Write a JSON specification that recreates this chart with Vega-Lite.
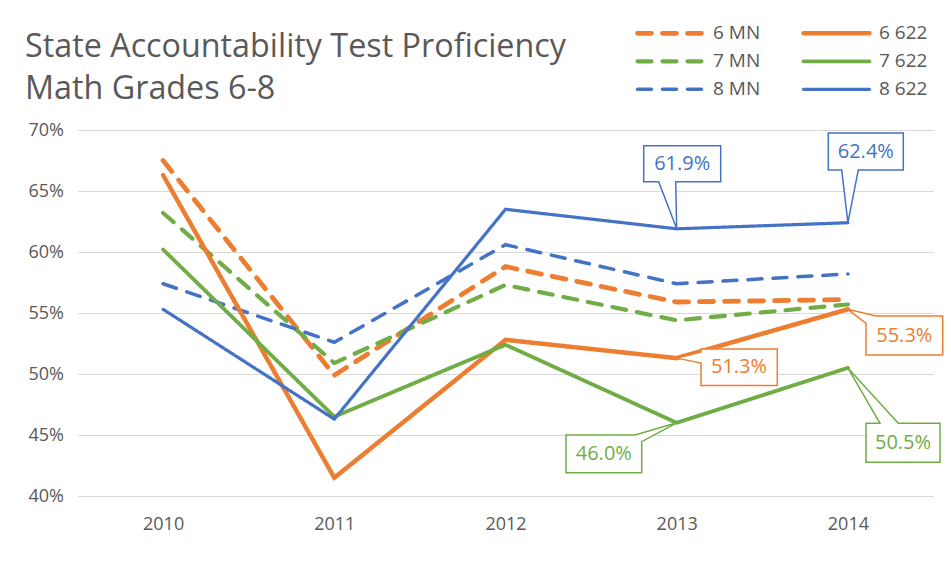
{
  "$schema": "https://vega.github.io/schema/vega-lite/v6.json",
  "width": 856,
  "height": 366,
  "autosize": "none",
  "padding": {"left": 77.5, "top": 130, "right": 17.5, "bottom": 67},
  "background": "white",
  "config": {
    "font": "Open Sans",
    "view": {"stroke": null},
    "axis": {"labelColor": "#595959", "labelFontSize": 18, "domain": false, "ticks": false, "tickSize": 0, "title": null}
  },
  "title": {
    "text": ["State Accountability Test Proficiency", "Math Grades 6-8"],
    "anchor": "start",
    "frame": "group",
    "fontSize": 32.3,
    "fontWeight": "normal",
    "color": "#595959",
    "lineHeight": 42,
    "dx": -52.5,
    "offset": 0,
    "dy": 81.5
  },
  "data": {
    "values": [
      {"series": "6 MN", "year": "2010", "value": 0.675},
      {"series": "6 MN", "year": "2011", "value": 0.499},
      {"series": "6 MN", "year": "2012", "value": 0.588},
      {"series": "6 MN", "year": "2013", "value": 0.559},
      {"series": "6 MN", "year": "2014", "value": 0.561},
      {"series": "7 MN", "year": "2010", "value": 0.632},
      {"series": "7 MN", "year": "2011", "value": 0.509},
      {"series": "7 MN", "year": "2012", "value": 0.573},
      {"series": "7 MN", "year": "2013", "value": 0.544},
      {"series": "7 MN", "year": "2014", "value": 0.557},
      {"series": "8 MN", "year": "2010", "value": 0.574},
      {"series": "8 MN", "year": "2011", "value": 0.526},
      {"series": "8 MN", "year": "2012", "value": 0.606},
      {"series": "8 MN", "year": "2013", "value": 0.574},
      {"series": "8 MN", "year": "2014", "value": 0.582},
      {"series": "6 622", "year": "2010", "value": 0.663},
      {"series": "6 622", "year": "2011", "value": 0.415},
      {"series": "6 622", "year": "2012", "value": 0.528},
      {"series": "6 622", "year": "2013", "value": 0.513},
      {"series": "6 622", "year": "2014", "value": 0.553},
      {"series": "7 622", "year": "2010", "value": 0.602},
      {"series": "7 622", "year": "2011", "value": 0.465},
      {"series": "7 622", "year": "2012", "value": 0.524},
      {"series": "7 622", "year": "2013", "value": 0.460},
      {"series": "7 622", "year": "2014", "value": 0.505},
      {"series": "8 622", "year": "2010", "value": 0.553},
      {"series": "8 622", "year": "2011", "value": 0.463},
      {"series": "8 622", "year": "2012", "value": 0.635},
      {"series": "8 622", "year": "2013", "value": 0.619},
      {"series": "8 622", "year": "2014", "value": 0.624}
    ]
  },
  "encoding": {
    "x": {"field": "year", "type": "ordinal", "scale": {"type": "point", "padding": 0.5},
      "axis": {"labelAngle": 0, "labelPadding": 19, "grid": false}},
    "y": {"field": "value", "type": "quantitative", "scale": {"domain": [0.4, 0.7], "nice": false, "zero": false},
      "axis": {"format": ".0%", "values": [0.4, 0.45, 0.5, 0.55, 0.6, 0.65, 0.7], "grid": true, "gridColor": "#d9d9d9", "gridWidth": 1, "labelPadding": 14}}
  },
  "layer": [
    {
      "mark": {"type": "line", "strokeCap": "round", "strokeJoin": "miter"},
      "encoding": {
        "color": {"field": "series", "type": "nominal",
          "scale": {"domain": ["6 MN", "6 622", "7 MN", "7 622", "8 MN", "8 622"],
                    "range": ["#ED7D31", "#ED7D31", "#70AD47", "#70AD47", "#4472C4", "#4472C4"]},
          "legend": {"orient": "none", "legendX": 557.5, "legendY": -106.7, "title": null, "columns": 2, "direction": "horizontal",
            "columnPadding": 40, "rowPadding": 8, "clipHeight": 20, "symbolType": "stroke", "symbolSize": 4356,
            "symbolStrokeWidth": 4.5, "labelFontSize": 19, "labelColor": "#595959", "labelOffset": 7, "padding": 0,
            "encode": {"symbols": {"update": {"strokeCap": {"value": "round"}}}}}},
        "strokeDash": {"field": "series", "type": "nominal",
          "scale": {"domain": ["6 MN", "6 622", "7 MN", "7 622", "8 MN", "8 622"],
                    "range": [[14, 11], [1, 0], [14, 11], [1, 0], [14, 11], [1, 0]]}},
        "strokeWidth": {"field": "series", "type": "nominal",
          "scale": {"domain": ["6 MN", "6 622", "7 MN", "7 622", "8 MN", "8 622"],
                    "range": [4.8, 3.2, 4.8, 3.2, 4.8, 3.2]}, "legend": null}
      }
    },
    {
      "transform": [{"filter": "datum.series == '8 622' && datum.year == '2013'"}],
      "layer": [
        {"mark": {"type": "point", "shape": "M-33,-83H44V-47H-1L0,0L-18,-47H-33Z", "size": 4, "filled": true, "fill": "white", "stroke": "#4472C4", "strokeWidth": 1.5, "opacity": 1}},
        {"mark": {"type": "text", "dx": 5.5, "dy": -65, "fontSize": 20, "color": "#4472C4"}, "encoding": {"text": {"field": "value", "format": ".1%"}}}
      ]
    },
    {
      "transform": [{"filter": "datum.series == '8 622' && datum.year == '2014'"}],
      "layer": [
        {"mark": {"type": "point", "shape": "M-19.6,-89.7H55.4V-52.7H10.4L0,0L-6.2,-52.7H-19.6Z", "size": 4, "filled": true, "fill": "white", "stroke": "#4472C4", "strokeWidth": 1.5, "opacity": 1}},
        {"mark": {"type": "text", "dx": 17.9, "dy": -71.2, "fontSize": 20, "color": "#4472C4"}, "encoding": {"text": {"field": "value", "format": ".1%"}}}
      ]
    },
    {
      "transform": [{"filter": "datum.series == '6 622' && datum.year == '2013'"}],
      "layer": [
        {"mark": {"type": "point", "shape": "M24.3,-9.1H100.6V27.4H24.3V5L0,0L24.3,-6Z", "size": 4, "filled": true, "fill": "white", "stroke": "#ED7D31", "strokeWidth": 1.5, "opacity": 1}},
        {"mark": {"type": "text", "dx": 62.3, "dy": 9.1, "fontSize": 20, "color": "#ED7D31"}, "encoding": {"text": {"field": "value", "format": ".1%"}}}
      ]
    },
    {
      "transform": [{"filter": "datum.series == '6 622' && datum.year == '2014'"}],
      "layer": [
        {"mark": {"type": "point", "shape": "M28,6.7H94.8V45.7H18.1V14L0,0Z", "size": 4, "filled": true, "fill": "white", "stroke": "#ED7D31", "strokeWidth": 1.5, "opacity": 1}},
        {"mark": {"type": "text", "dx": 56.4, "dy": 26.2, "fontSize": 20, "color": "#ED7D31"}, "encoding": {"text": {"field": "value", "format": ".1%"}}}
      ]
    },
    {
      "transform": [{"filter": "datum.series == '7 622' && datum.year == '2013'"}],
      "layer": [
        {"mark": {"type": "point", "shape": "M-110.7,12.2H-41.7L0,0L-35,18.9V49.9H-110.7Z", "size": 4, "filled": true, "fill": "white", "stroke": "#70AD47", "strokeWidth": 1.5, "opacity": 1}},
        {"mark": {"type": "text", "dx": -72.9, "dy": 31, "fontSize": 20, "color": "#70AD47"}, "encoding": {"text": {"field": "value", "format": ".1%"}}}
      ]
    },
    {
      "transform": [{"filter": "datum.series == '7 622' && datum.year == '2014'"}],
      "layer": [
        {"mark": {"type": "point", "shape": "M18.1,55.4H32.1L0,0L50.4,55.4H92.1V94.4H18.1Z", "size": 4, "filled": true, "fill": "white", "stroke": "#70AD47", "strokeWidth": 1.5, "opacity": 1}},
        {"mark": {"type": "text", "dx": 55.1, "dy": 74.9, "fontSize": 20, "color": "#70AD47"}, "encoding": {"text": {"field": "value", "format": ".1%"}}}
      ]
    }
  ]
}
